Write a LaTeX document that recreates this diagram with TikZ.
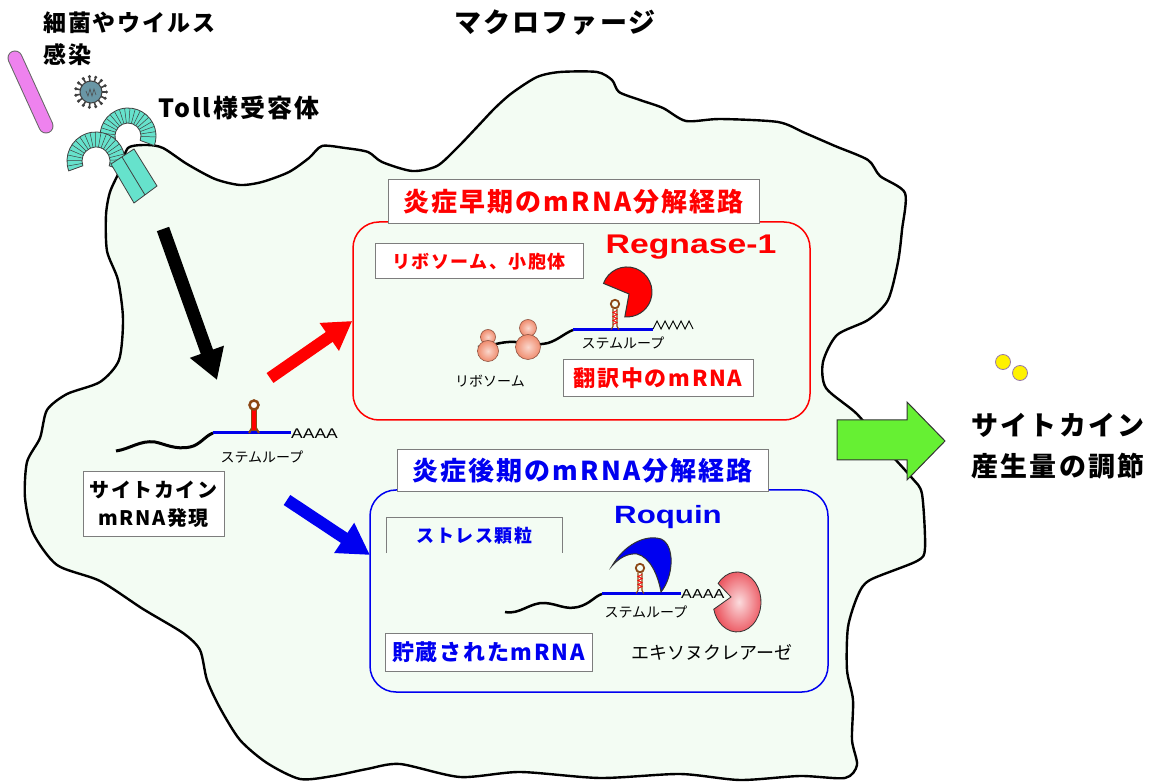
\documentclass[tikz,border=0pt]{standalone}
\usepackage{fontspec}
\setmainfont{Liberation Sans}
\newfontfamily\jp{Noto Sans CJK JP}[LetterSpace=8]
\newfontfamily\jpthin{Noto Sans CJK JP}
\newfontfamily\widesans{Liberation Sans}[FakeStretch=1.25]
\usetikzlibrary{arrows.meta}
\definecolor{cellfill}{RGB}{243,252,243}
\definecolor{tlr}{RGB}{102,226,204}
\definecolor{rodpink}{RGB}{238,130,238}
\definecolor{rnablue}{RGB}{0,0,235}
\definecolor{loopbrown}{RGB}{140,70,20}
\definecolor{ecol}{RGB}{255,0,0}
\definecolor{lcol}{RGB}{0,0,240}
\definecolor{boxline}{RGB}{125,125,125}
\definecolor{ribo}{RGB}{240,140,110}
\definecolor{exo}{RGB}{235,80,90}
\definecolor{signal}{RGB}{102,240,51}
% bold Japanese: size, baseline skip
\newcommand\jbf[2]{\jp\bfseries\fontsize{#1}{#2}\selectfont}
\newcommand\jrg[1]{\jpthin\fontsize{#1}{#1}\selectfont}
\newcommand\wsb[1]{\widesans\bfseries\fontsize{#1}{#1}\selectfont}
\begin{document}
\begin{tikzpicture}[x=1pt,y=-1pt,
  lbox/.style={draw=boxline, line width=1pt, fill=white, inner sep=0pt},
  region/.style={line width=1.5pt, rounded corners=26pt, inner sep=0pt},
  bigloop/.pic={
    \draw[loopbrown, line width=2pt] (-5,0) -- (-2,-5) (5,0) -- (2,-5);
    \filldraw[fill=red, draw=loopbrown, line width=1pt] (-2.5,-2) rectangle (2.5,-23);
    \draw[loopbrown, line width=2.5pt, fill=white] (0,-28) circle (4.5);
  },
  smallloop/.pic={
    \draw[loopbrown, line width=1.1pt] (-4,0) -- (-2,-3) -- (-2,-21) (4,0) -- (2,-3) -- (2,-21);
    \draw[red, line width=0.7pt] (-2,-5) -- (2,-7) -- (-2,-9) -- (2,-11) -- (-2,-13) -- (2,-15) -- (-2,-17) -- (2,-19);
    \draw[loopbrown, line width=1.8pt] (0,-25.5) circle (4.2);
  }]
\useasboundingbox (0,0) rectangle (1163,783);

% ---- the macrophage ----
\filldraw[fill=cellfill, line width=2.4pt, line join=round]
  plot[smooth cycle, tension=0.45] coordinates {
  (128,148) (147,145) (163,148) (187,164) (215,179) (240,185) (262,182) (289,172)
  (309,158) (322,146) (345,148) (368,152) (382,162) (412,171) (437,166) (458,147)
  (478,126) (495,108) (512,93) (537,77) (560,72) (597,72) (612,80) (619,92)
  (640,100) (663,108) (686,121) (720,119) (778,122) (805,133) (835,146) (868,160)
  (880,176) (905,193) (902,230) (898,262) (888,300) (868,320) (837,335) (823,362)
  (826,388) (857,414) (885,448) (912,478) (922,494) (925,548) (917,561) (870,580)
  (858,595) (848,627) (847,670) (853,700) (852,740) (857,765) (845,778) (800,776)
  (740,780) (680,774) (600,778) (520,772) (460,777) (400,764) (367,769) (333,776)
  (300,779) (267,763) (240,740) (220,708) (207,680) (200,650) (183,633) (143,609)
  (100,581) (57,565) (33,533) (25,498) (27,462) (40,438) (47,410) (67,394)
  (100,382) (119,360) (123,319) (118,280) (107,251) (106,215) (110,192) (120,170)};

\node[font=\jbf{27}{32}] (macro) at (555,23) {マクロファージ};

% ---- Toll-like receptor on the membrane ----
\begin{scope}[shift={(128,136)}, draw=black!75, line width=0.8pt]
  \filldraw[fill=tlr] (165:28) arc[start angle=165, end angle=380, radius=28]
    -- (20:13) arc[start angle=20, end angle=-195, radius=13] -- cycle;
  \foreach \a in {175,186,...,372} \draw[line width=0.5pt] (\a:13) -- (\a:28);
\end{scope}
\begin{scope}[shift={(96,161)}, draw=black!75, line width=0.8pt]
  \filldraw[fill=tlr] (160:29) arc[start angle=160, end angle=380, radius=29]
    -- (20:14) arc[start angle=20, end angle=-200, radius=14] -- cycle;
  \foreach \a in {170,181,...,372} \draw[line width=0.5pt] (\a:14) -- (\a:29);
\end{scope}
\filldraw[fill=tlr, draw=black!75, line width=0.8pt]
  (111,164) -- (134,149) -- (157,186) -- (134,203) -- cycle;
\draw[black!75, line width=0.8pt] (122,157) -- (145,195);

% ---- bacterium and virus ----
\coordinate (rodA) at (15,58);
\coordinate (rodB) at (46,126);
\draw[line width=15pt, black!60, line cap=round] (rodA) -- (rodB);
\draw[line width=13pt, rodpink, line cap=round] (rodA) -- (rodB);
\begin{scope}[shift={(91,92)}]
  \foreach \a in {0,24,...,336} {
    \draw[line width=1.6pt, black!75] (\a:10) -- (\a:15.5);
    \fill[black!75] (\a:15.5) circle (1.7);
  }
  \filldraw[fill={rgb,255:red,105;green,150;blue,165}, draw=black!75, line width=1pt] (0,0) circle (11);
  \draw[black!70, line width=0.6pt] (-5,-1) -- (-3,4) -- (-1,-3) -- (1,4) -- (3,-3) -- (5,3);
\end{scope}

\node[font=\jbf{23}{32}, align=left, anchor=west, inner sep=0pt] (infect) at (43,39)
  {細菌やウイルス\\感染};
\node[font=\jbf{25}{30}] (tlrlabel) at (239,108) {Toll様受容体};

% ---- cytokine mRNA ----
\draw[line width=3pt] (116,451) .. controls (130,449) and (140,440) .. (155,442)
  .. controls (165,444) and (175,450) .. (190,447) .. controls (200,445) and (205,436) .. (213,433);
\draw[rnablue, line width=3pt] (213,433) -- (291,433);
\pic at (254,433) {bigloop};
\node[anchor=west, inner sep=0pt, font=\widesans\fontsize{14}{14}\selectfont] (polyA) at (291,434) {AAAA};
\node[font=\jrg{14}] (stemA) at (262,457) {ステムループ};
\node[lbox, minimum width=141pt, minimum height=65pt, align=center, font=\jbf{20}{28}] (cytobox) at (153.5,504.5)
  {サイトカイン\\mRNA発現};

% ---- early pathway ----
\node[region, draw=ecol, minimum width=457pt, minimum height=198pt] (early) at (581.5,321) {};
\node[lbox, minimum width=371pt, minimum height=44pt, text=ecol, font=\jbf{26}{30}] (earlytitle) at (573.5,202) {炎症早期のmRNA分解経路};
\node[text=ecol, font=\wsb{27}] (regnase) at (691,247) {Regnase-1};
\node[lbox, minimum width=208pt, minimum height=35pt, text=ecol, font=\jbf{18}{22}] (ribobox) at (479,261.5) {リボソーム、小胞体};
\draw[line width=2.5pt] (478,347) .. controls (490,347) and (500,341) .. (515,342)
  .. controls (528,343) and (535,346) .. (548,343) .. controls (558,340) and (565,333) .. (573,330);
\draw[rnablue, line width=2.5pt] (573,329.5) -- (653,329.5);
\draw[line width=0.9pt] (653,329) -- (657,321) -- (661,329) -- (665,321) -- (669,329) -- (673,321)
  -- (677,329) -- (681,321) -- (685,329) -- (689,321) -- (693,329);
\pic at (615,329.5) {smallloop};
\filldraw[fill=ecol, draw=black!80, line width=1pt]
  (629,294) -- (603.5,283.4) arc[start angle=200, end angle=455, radius=25] -- cycle;
\foreach \x/\ty/\tr/\by/\br in {488/337/7.5/351/10.5, 528/328/8.5/347/12.5} {
  \shade[inner color=ribo!35!white, outer color=ribo] (\x,\ty) circle (\tr);
  \draw[ribo!60!black, line width=0.6pt] (\x,\ty) circle (\tr);
  \shade[inner color=ribo!35!white, outer color=ribo] (\x,\by) circle (\br);
  \draw[ribo!60!black, line width=0.6pt] (\x,\by) circle (\br);
}
\node[font=\jrg{14}] (ribolabel) at (490,381) {リボソーム};
\node[font=\jrg{14}] (stemB) at (623,343) {ステムループ};
\node[lbox, minimum width=190pt, minimum height=37pt, text=ecol, font=\jbf{22}{26}] (transbox) at (658,378.5) {翻訳中のmRNA};

% ---- late pathway ----
\node[region, draw=lcol, minimum width=458pt, minimum height=202pt] (late) at (599,591) {};
\node[lbox, minimum width=371pt, minimum height=42pt, text=lcol, font=\jbf{26}{30}] (latetitle) at (582.5,471) {炎症後期のmRNA分解経路};
\node[text=lcol, font=\wsb{25}] (roquin) at (668,517) {Roquin};
\node[inner sep=0pt, minimum width=175pt, minimum height=35pt, text=lcol, font=\jbf{18}{22}] (stressbox) at (474.5,535.5) {ストレス顆粒};
\draw[boxline, line width=1pt] (stressbox.south west) |- (stressbox.north east) -- (stressbox.south east);
\draw[line width=2.5pt] (505,612) .. controls (520,615) and (530,602) .. (545,603)
  .. controls (558,604) and (565,610) .. (578,607) .. controls (590,604) and (595,596) .. (602,594);
\draw[rnablue, line width=2.5pt] (602,593.5) -- (681,593.5);
\pic at (640,593.5) {smallloop};
\filldraw[fill=lcol, draw=black!80, line width=1pt]
  (612,566) .. controls (624,545) and (645,534) .. (661,539)
  .. controls (675,545) and (674,576) .. (661,592)
  .. controls (658,575) and (650,557) .. (637,554)
  .. controls (628,553) and (619,558) .. cycle;
\node[anchor=west, inner sep=0pt, font=\widesans\fontsize{13}{13}\selectfont] (polyB) at (681,594) {AAAA};
\shade[inner color=exo!20!white, outer color=exo]
  (731,597) -- (718.1,583.5) arc[start angle=218, end angle=526, x radius=24, y radius=30] -- cycle;
\draw[black!80, line width=0.8pt]
  (731,597) -- (718.1,583.5) arc[start angle=218, end angle=526, x radius=24, y radius=30] -- cycle;
\node[font=\jrg{14}] (stemC) at (646,612) {ステムループ};
\node[font=\jrg{18}] (exolabel) at (712,652) {エキソヌクレアーゼ};
\node[lbox, minimum width=207pt, minimum height=38pt, text=lcol, font=\jbf{22}{26}] (storedbox) at (488.5,652) {貯蔵されたmRNA};

% ---- signalling arrows ----
\coordinate (tlrOut) at (163,229);
\coordinate (mrnaIn) at (217,380);
\coordinate (earlyOut) at (270,378);
\coordinate (lateOut) at (287,500);
\coordinate (lateIn) at (370,555);
\draw[line width=13pt, -{Triangle[length=30pt,width=34pt]}] (tlrOut) -- (mrnaIn);
\draw[ecol, line width=12pt, -{Triangle[length=28pt,width=32pt]}] (earlyOut) -- (early.west);
\draw[lcol, line width=12pt, -{Triangle[length=31pt,width=34pt]}] (lateOut) -- (lateIn);

% ---- output: cytokine production ----
\filldraw[fill=signal, draw=black!80, line width=1pt]
  (837,420) -- (907,420) -- (907,402) -- (945,441) -- (907,480) -- (907,460) -- (837,460) -- cycle;
\filldraw[fill=yellow, draw={rgb,255:red,150;green,120;blue,170}, line width=0.8pt] (1003,362) circle (7.5);
\filldraw[fill=yellow, draw={rgb,255:red,150;green,120;blue,170}, line width=0.8pt] (1020,373) circle (7.5);
\node[align=center, font=\jbf{27}{41}] (result) at (1058,446) {サイトカイン\\産生量の調節};
\end{tikzpicture}
\end{document}
